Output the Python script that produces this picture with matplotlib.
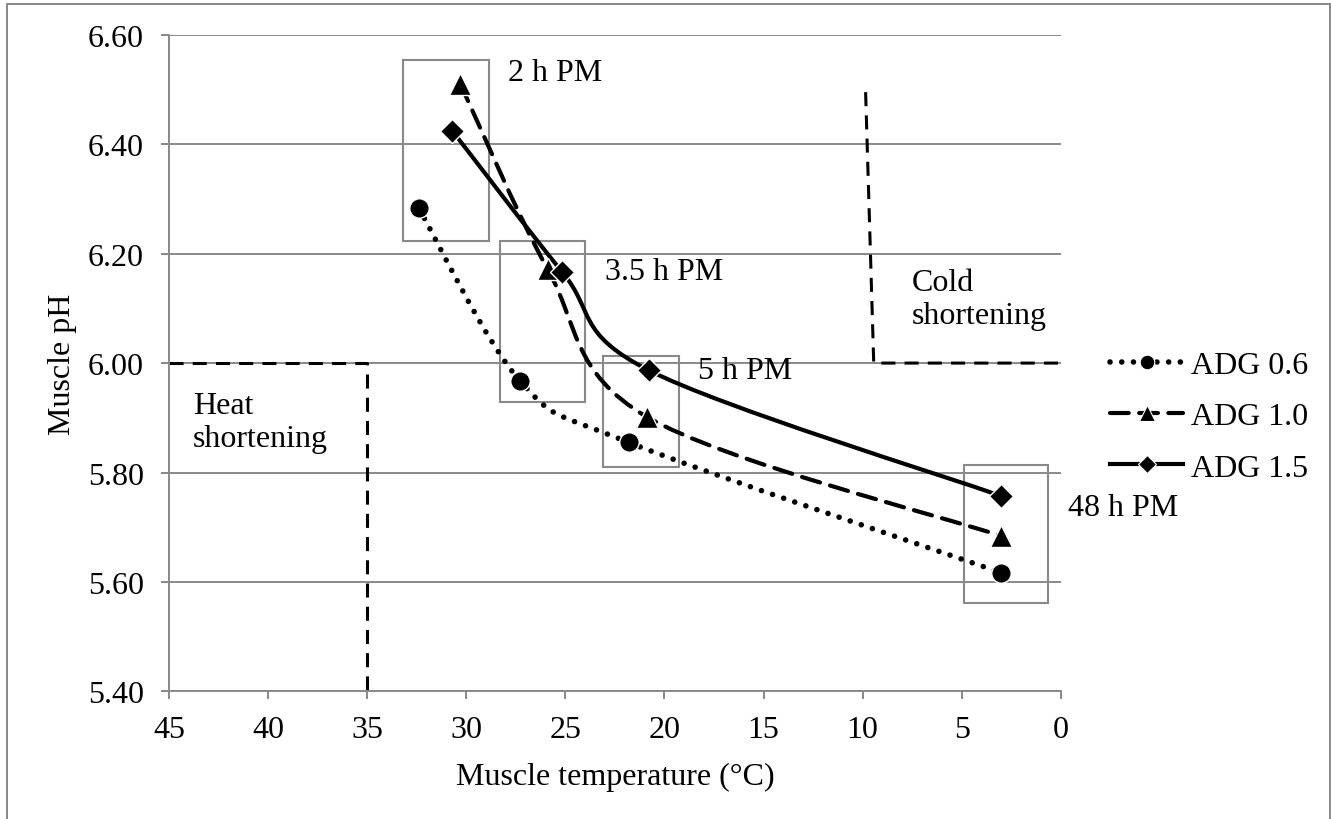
import numpy as np
import matplotlib
matplotlib.use("Agg")
import matplotlib.pyplot as plt
from matplotlib.path import Path
from matplotlib.patches import PathPatch, Rectangle
from matplotlib.lines import Line2D

plt.rcParams['font.family'] = ['Liberation Serif', 'DejaVu Serif']
plt.rcParams['font.size'] = 23

# data
temp_06 = [32.4, 27.3, 21.8, 3.0]
ph_06 = [6.283, 5.968, 5.855, 5.617]
temp_10 = [30.3, 25.9, 20.9, 3.0]
ph_10 = [6.510, 6.172, 5.902, 5.684]
temp_15 = [30.7, 25.15, 20.8, 3.0]
ph_15 = [6.424, 6.166, 5.987, 5.757]
series_labels = ['ADG 0.6', 'ADG 1.0', 'ADG 1.5']

time_labels = ['2 h PM', '3.5 h PM', '5 h PM', '48 h PM']
box_temp = [(33.2, 28.85), (28.3, 24.0), (23.1, 19.25), (4.9, 0.65)]
box_ph = [(6.223, 6.553), (5.929, 6.223), (5.810, 6.013), (5.562, 5.814)]
label_temp = [27.9, 23.0, 18.3, -0.35]
label_ph = [6.53, 6.168, 5.987, 5.737]

heat_temp = [45, 35, 35]
heat_ph = [6.0, 6.0, 5.4]
cold_temp = [9.85, 9.44, 0]
cold_ph = [6.495, 6.0, 6.0]

GRAY = '#898989'


def smooth_path(xs, ys, sx, sy):
    # excel style smoothed line (catmull-rom -> cubic bezier) in pixel scaled coords
    p = np.column_stack([np.array(xs) * sx, np.array(ys) * sy])
    n = len(p)
    verts = [p[0]]
    codes = [Path.MOVETO]
    for i in range(n - 1):
        p0 = p[i - 1] if i > 0 else p[i]
        p3 = p[i + 2] if i + 2 < n else p[i + 1]
        c1 = p[i] + (p[i + 1] - p0) / 6
        c2 = p[i + 1] - (p3 - p[i]) / 6
        verts += [c1, c2, p[i + 1]]
        codes += [Path.CURVE4] * 3
    verts = np.array(verts) / [sx, sy]
    return Path(verts, codes)


fig = plt.figure(figsize=(13.31, 8.20), dpi=100)
ax = fig.add_axes([0.127, 0.1555, 0.670, 0.801])
ax.set_xlim(45, 0)
ax.set_ylim(5.40, 6.60)
ax.set_xticks(range(45, -1, -5))
ax.set_yticks(np.arange(5.40, 6.61, 0.20))
ax.set_yticklabels([f'{v:.2f}' for v in np.arange(5.40, 6.61, 0.20)])
ax.grid(axis='y', color=GRAY, lw=1.4)
ax.set_axisbelow(True)
for s in ['top', 'right']:
    ax.spines[s].set_visible(False)
for s in ['left', 'bottom']:
    ax.spines[s].set_color(GRAY)
    ax.spines[s].set_linewidth(1.4)
ax.tick_params(axis='both', colors=GRAY, labelcolor='black', length=6, width=1.4)
ax.tick_params(axis='y', pad=12)
ax.tick_params(axis='x', pad=11)
ax.set_xlabel('Muscle temperature (°C)', labelpad=13)
ax.set_ylabel('Muscle pH', labelpad=8)

# shortening zones
ax.plot(heat_temp, heat_ph, color='black', lw=2.2, linestyle=(0, (4.6, 3)), clip_on=False)
ax.plot(cold_temp, cold_ph, color='black', lw=2.2, linestyle=(0, (4.6, 3)), clip_on=False)
ax.text(43.8, 5.892, 'Heat\nshortening', ha='left', va='center', linespacing=1.2)
ax.text(7.5, 6.117, 'Cold\nshortening', ha='left', va='center', linespacing=1.15)

# time boxes
for (x0, x1), (y0, y1), lab, lx, ly in zip(box_temp, box_ph, time_labels, label_temp, label_ph):
    ax.add_patch(Rectangle((x0, y0), x1 - x0, y1 - y0, fill=False, edgecolor=GRAY, lw=1.5, zorder=2))
    ax.text(lx, ly, lab, ha='left', va='center', clip_on=False)

sx = 0.670 * 1331 / 45.0
sy = 0.801 * 820 / 1.2
styles = [
    (temp_06, ph_06, (0, (0.01, 2.1)), 4.0, 'o', 14),
    (temp_10, ph_10, (0, (4.5, 2.5)), 3.0, '^', 16),
    (temp_15, ph_15, 'solid', 3.0, 'D', 12),
]
handles = []
for (tx, ty, ls, lw, mk, ms), lab in zip(styles, series_labels):
    patch = PathPatch(smooth_path(tx, ty, sx, sy), fill=False, edgecolor='black', lw=lw,
                      linestyle=ls, capstyle='round', zorder=3)
    ax.add_patch(patch)
    ax.plot(tx, ty, linestyle='none', marker=mk, ms=ms, color='black',
            markeredgecolor='white', markeredgewidth=1.0, zorder=4, clip_on=False)
    handles.append(Line2D([], [], color='black', lw=lw, linestyle=ls, marker=mk, ms=ms * 0.75,
                          markeredgecolor='white', markeredgewidth=0.8, dash_capstyle='round'))

fig.legend(handles, series_labels, loc='upper left', bbox_to_anchor=(1110 / 1331, 1 - 352 / 820),
           frameon=False, handlelength=2.3, handletextpad=0.25, labelspacing=0.68,
           borderpad=0, borderaxespad=0)

# outer chart border
fig.add_artist(Rectangle((7 / 1331, -0.1), 1323 / 1331, 1.1 - 5 / 820, transform=fig.transFigure,
                         fill=False, edgecolor=GRAY, lw=1.4))

fig.savefig('out.png', dpi=100)
